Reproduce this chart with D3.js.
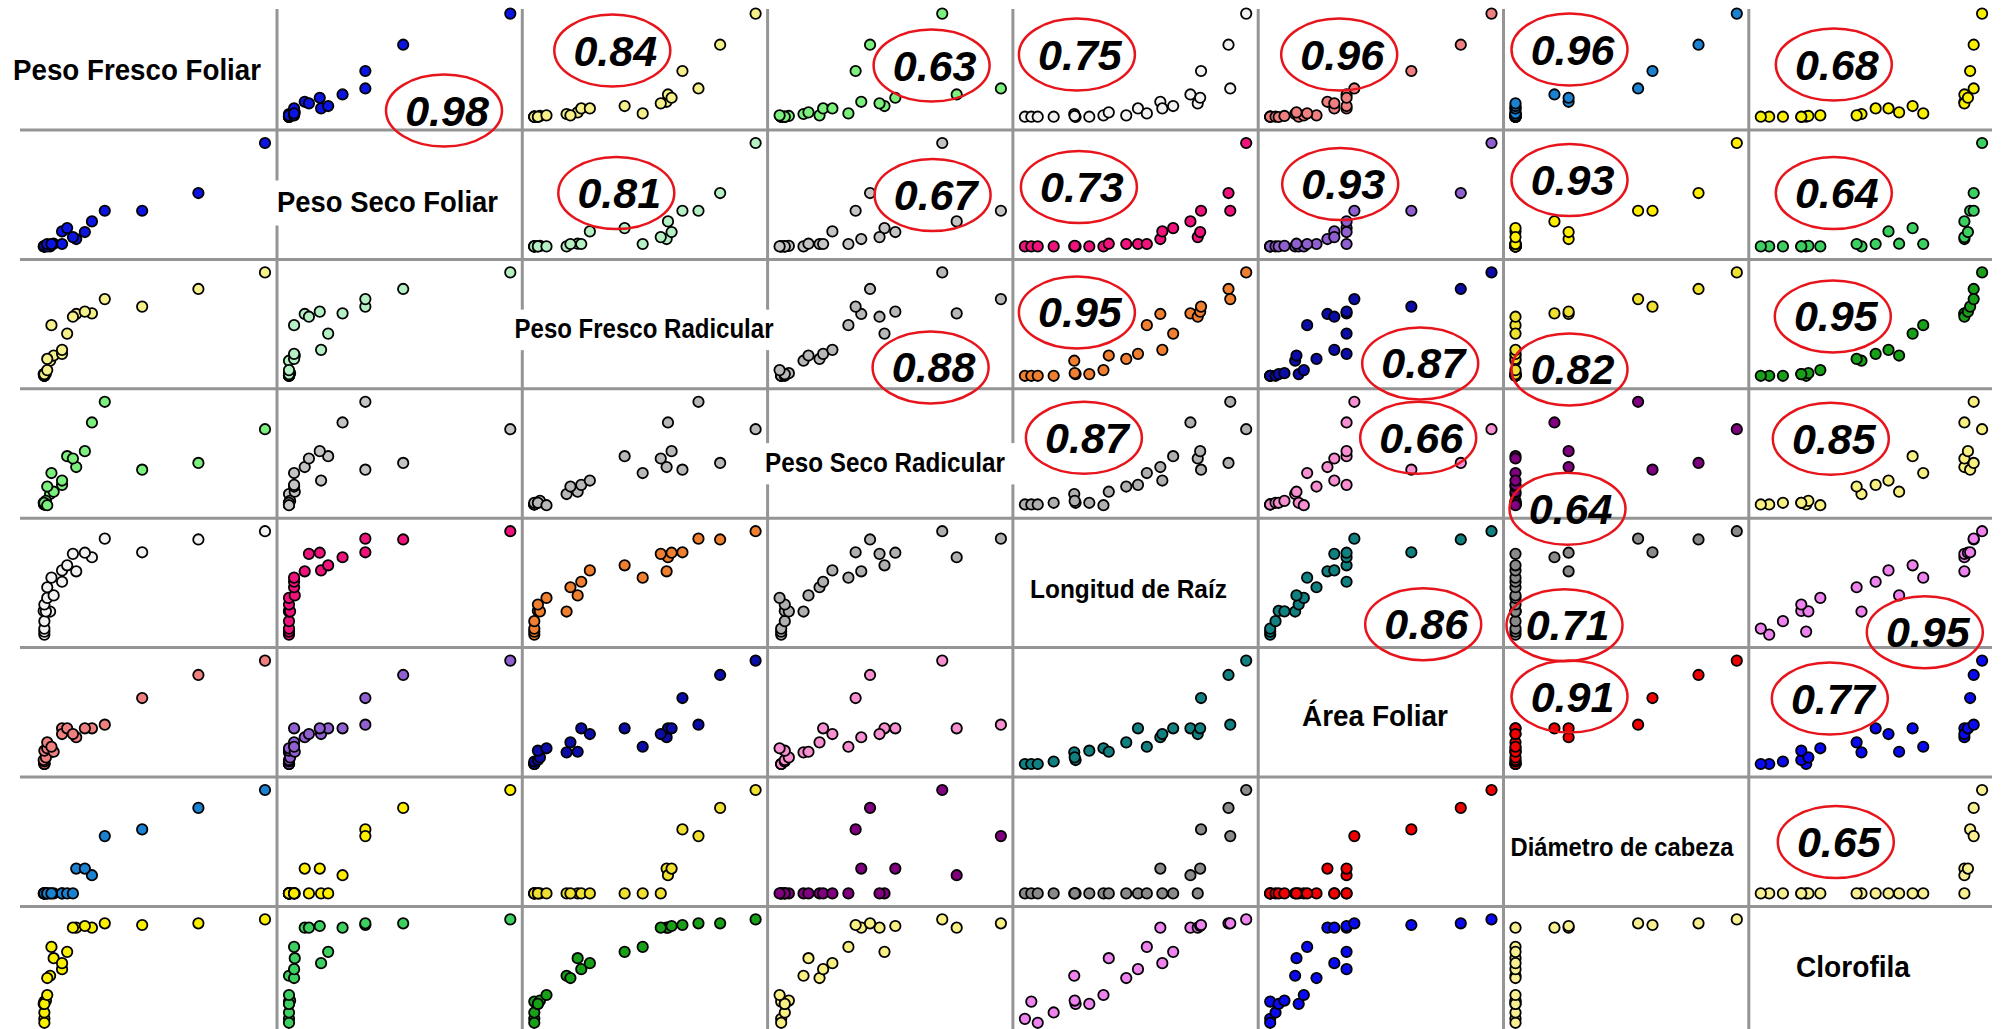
<!DOCTYPE html>
<html>
<head>
<meta charset="utf-8">
<script src="https://cdn.jsdelivr.net/npm/d3@7"></script>
<style>
  body { margin: 0; background: #fff; }
  svg { display: block; }
</style>
</head>
<body>
<div id="chart"></div>
<script>
/* DATA (each variable in relative units 0-1) */
const variables = ["Peso Fresco Foliar", "Peso Seco Foliar", "Peso Fresco Radicular", "Peso Seco Radicular",
  "Longitud de Raíz", "Área Foliar", "Diámetro de cabeza", "Clorofila"];

const pesoFrescoFoliar = [0.003, 0.003, 0.003, 0.003, 0.029, 0, 0.01, 0.003, 0.016, 0.045, 0.016, 0.083, 0.035, 0.147, 0.083, 0.106, 0.218, 0.132, 0.186, 0.445, 0.699, 0.276, 1.0];
const pesoSecoFoliar = [0, 0, 0, 0, 0, 0, 0.005, 0, 0, 0.026, 0.023, 0.023, 0.023, 0.071, 0.145, 0.177, 0.242, 0.09, 0.139, 0.345, 0.516, 0.345, 1.0];
const pesoFrescoRadicular = [0.02, 0.02, 0.02, 0.02, 0.163, 0.036, 0.045, 0.036, 0.074, 0.212, 0.18, 0.228, 0.5, 0.606, 0.266, 0.42, 0.612, 0.58, 0.628, 0.676, 0.843, 0.747, 1.0];
const pesoSecoRadicular = [0.026, 0.026, 0.026, 0.042, 0.125, 0.042, 0.06, 0.042, 0.019, 0.147, 0.196, 0.212, 0.324, 0.381, 0.253, 0.484, 0.804, 0.462, 0.532, 0.356, 0.42, 1.0, 0.74];
const longitudRaiz = [0, 0.029, 0.058, 0.13, 0.223, 0.229, 0.225, 0.291, 0.355, 0.379, 0.458, 0.511, 0.551, 0.612, 0.621, 0.67, 0.748, 0.781, 0.792, 0.796, 0.92, 0.928, 1.0];
const areaFoliar = [0.006, 0.006, 0.006, 0.03, 0.118, 0.044, 0.07, 0.134, 0.157, 0.124, 0.214, 0.349, 0.172, 0.263, 0.294, 0.349, 0.349, 0.294, 0.349, 0.64, 0.862, 0.384, 1.0];
const diametroCabeza = [0, 0, 0, 0, 0, 0, 0, 0, 0, 0, 0, 0, 0, 0.24, 0, 0, 0.176, 0, 0.24, 0.619, 0.827, 0.554, 1.0];
const clorofila = [0.038, 0.205, 0, 0.1, 0.455, 0.183, 0.215, 0.183, 0.269, 0.625, 0.433, 0.519, 0.734, 0.92, 0.577, 0.686, 0.92, 0.92, 0.936, 0.946, 0.962, 0.962, 1.0];

// correlations of the upper triangle, row by row: (1,2),(1,3)...(7,8)
const corrValues = ["0.98", "0.84", "0.63", "0.75", "0.96", "0.96", "0.68",
  "0.81", "0.67", "0.73", "0.93", "0.93", "0.64",
  "0.88", "0.95", "0.87", "0.82", "0.95",
  "0.87", "0.66", "0.64", "0.85",
  "0.86", "0.71", "0.95",
  "0.91", "0.77",
  "0.65"];

// point colour of each pair, same order (used in both triangles)
const pairColors = ["#0b14e0", "#f5f08a", "#7cf07c", "#f2f2f2", "#f08080", "#1a82d0", "#f8f000",
  "#b5f0c5", "#c4c4c4", "#f0137c", "#9060d0", "#ffee00", "#3cd060",
  "#b8b8b8", "#f08030", "#0c0ca8", "#f0e030", "#18a018",
  "#b0b0b0", "#f78fd0", "#800080", "#f8f080",
  "#108080", "#8a8a8a", "#ee82ee",
  "#f00000", "#0a0af0",
  "#f8f090"];

/* LAYOUT */
const width = 2002, height = 1029;
const gridLeft = 31.7, gridTop = 0.6, cellW = 245.3, cellH = 129.4;
const padX = 12, padY = 13, radius = 5.2;

// where the ellipse sits inside its cell (offset from the cell's top-left corner)
const corrSpots = [[167, 110], [90, 50], [164, 65], [64, 54], [81, 54], [66, 49], [85, 64],
  [94, 63], [165, 65], [66, 57], [82, 54], [66, 50], [85, 63],
  [163, 108], [64, 53], [162, 104], [66, 110], [84, 57],
  [71, 49], [160, 49], [64, 120], [82, 50],
  [165, 106], [61, 107], [176, 114],
  [66, 49], [81, 51],
  [87, 65]];

// diagonal labels: centre x, baseline, text width, font size, box pad left/right
const labelLayout = [[137, 80, 248, 30, 10, 10], [387.5, 212, 221, 30, 10, 10], [644, 338, 259, 27, 10, 10],
  [885, 472, 240, 27.5, 10, 10], [1128.5, 598, 197, 26, 8, 8], [1375, 726, 146, 30, 8, 8],
  [1622, 856, 223, 26, 3, 8], [1853, 977, 114, 30, 8, 8]];

const columns = [pesoFrescoFoliar, pesoSecoFoliar, pesoFrescoRadicular, pesoSecoRadicular,
  longitudRaiz, areaFoliar, diametroCabeza, clorofila];
const nVar = variables.length;

function pairIndex(a, b) { // a < b, 0-based
  return 7 * a - a * (a - 1) / 2 + (b - a - 1);
}
const cellX = j => gridLeft + cellW * j;
const cellY = i => gridTop + cellH * i;

const svg = d3.select("#chart")
  .append("svg")
  .attr("width", width)
  .attr("height", height);

svg.append("rect").attr("width", width).attr("height", height).attr("fill", "#fff");

// one scale per variable, reused in its column (x) and its row (y)
const xScales = columns.map(v => d3.scaleLinear().domain(d3.extent(v)).range([padX, cellW - padX]));
const yScales = columns.map(v => d3.scaleLinear().domain(d3.extent(v)).range([cellH - padY, padY]));

/* GRID LINES */
const grid = svg.append("g").attr("stroke", "#959595").attr("stroke-width", 3);
d3.range(1, nVar).forEach(k => {
  grid.append("line")
    .attr("x1", cellX(k)).attr("x2", cellX(k))
    .attr("y1", 9).attr("y2", height);
  grid.append("line")
    .attr("x1", 20).attr("x2", 1992)
    .attr("y1", cellY(k)).attr("y2", cellY(k));
});

/* DIAGONAL LABELS (white box hides the grid line behind them) */
variables.forEach((name, i) => {
  const [cx, base, w, fs, pl, pr] = labelLayout[i];
  svg.append("rect")
    .attr("x", cx - w / 2 - pl)
    .attr("y", base - fs * 1.05)
    .attr("width", w + pl + pr)
    .attr("height", fs * 1.5)
    .attr("fill", "#fff");
  svg.append("text")
    .attr("x", cx)
    .attr("y", base)
    .attr("text-anchor", "middle")
    .attr("font-family", "'Liberation Sans Narrow', 'Liberation Sans', Arial, sans-serif")
    .attr("font-weight", "bold")
    .attr("font-size", fs)
    .attr("textLength", w)
    .attr("lengthAdjust", "spacingAndGlyphs")
    .attr("fill", "#000")
    .text(name);
});

/* SCATTER PANELS */
const obs = d3.range(columns[0].length);
for (let i = 0; i < nVar; i++) {
  for (let j = 0; j < nVar; j++) {
    if (i === j) continue;
    const color = pairColors[pairIndex(Math.min(i, j), Math.max(i, j))];
    const panel = svg.append("g")
      .attr("transform", `translate(${cellX(j)}, ${cellY(i)})`);
    panel.selectAll("circle")
      .data(obs)
      .join("circle")
      .attr("cx", k => xScales[j](columns[j][k]))
      .attr("cy", k => yScales[i](columns[i][k]))
      .attr("r", radius)
      .attr("fill", color)
      .attr("stroke", "#000")
      .attr("stroke-width", 1.8);
  }
}

/* CORRELATION CALLOUTS (upper triangle) */
for (let a = 0; a < nVar; a++) {
  for (let b = a + 1; b < nVar; b++) {
    const idx = pairIndex(a, b);
    const [dx, dy] = corrSpots[idx];
    const g = svg.append("g")
      .attr("transform", `translate(${cellX(b) + dx}, ${cellY(a) + dy})`);
    g.append("ellipse")
      .attr("rx", 58)
      .attr("ry", 36)
      .attr("fill", "none")
      .attr("stroke", "#e8141c")
      .attr("stroke-width", 2.5);
    g.append("text")
      .attr("x", 3)
      .attr("y", 15)
      .attr("text-anchor", "middle")
      .attr("font-family", "'Liberation Sans', Arial, sans-serif")
      .attr("font-weight", "bold")
      .attr("font-style", "italic")
      .attr("font-size", 43)
      .attr("fill", "#000")
      .text(corrValues[idx]);
  }
}
</script>
</body>
</html>
